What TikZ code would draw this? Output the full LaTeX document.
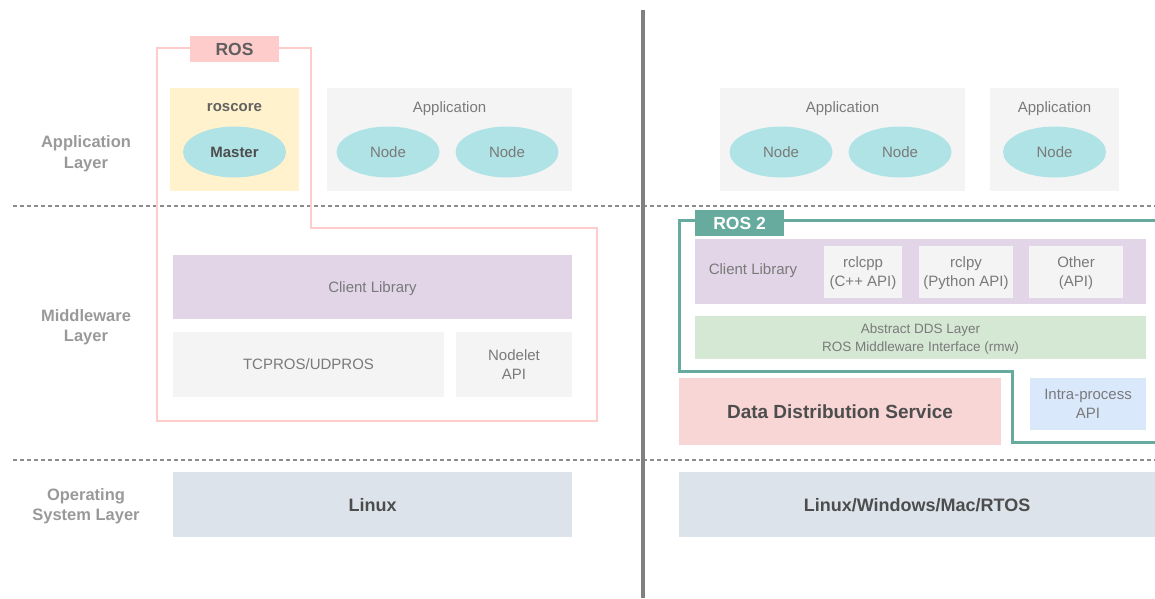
\documentclass[tikz,border=0pt]{standalone}
\usepackage{fontspec}
\setmainfont{Liberation Sans}
\usetikzlibrary{shapes.geometric}
\definecolor{txtgray}{HTML}{7A7A7A}
\definecolor{laygray}{HTML}{999999}
\definecolor{darktxt}{HTML}{4D4D4D}
\definecolor{boxgray}{HTML}{F4F4F4}
\definecolor{nodecyan}{HTML}{B0E3E6}
\definecolor{coreyellow}{HTML}{FFF2CC}
\definecolor{libpurple}{HTML}{E1D5E7}
\definecolor{rmwgreen}{HTML}{D5E8D4}
\definecolor{ddspink}{HTML}{F8D6D6}
\definecolor{intrablue}{HTML}{DAE8FC}
\definecolor{osblue}{HTML}{DCE3EA}
\definecolor{rospink}{HTML}{FFCCCC}
\definecolor{rosteal}{HTML}{67AB9F}
\definecolor{divgray}{HTML}{808080}
\definecolor{dashgray}{HTML}{8C8C8C}
\begin{document}
\begin{tikzpicture}[x=1pt,y=-1pt,
  every node/.style={inner sep=0pt, outer sep=0pt, text depth=0pt},
  box/.style={rectangle, draw=none, align=center, text=txtgray, font=\fontsize{15}{19}\selectfont},
  ellnode/.style={ellipse, fill=nodecyan, minimum width=103pt, minimum height=51pt, text=txtgray, font=\fontsize{15}{19}\selectfont},
  plain/.style={align=center, text=txtgray, font=\fontsize{15}{19}\selectfont},
  layerlbl/.style={align=center, text=laygray, font=\fontsize{16.5}{20.5}\selectfont\bfseries},
  boldtxt/.style={text=darktxt, font=\fontsize{18}{22}\selectfont\bfseries},
  tag/.style={rectangle, minimum width=89pt, minimum height=26pt, font=\fontsize{17.5}{21}\selectfont\bfseries},
  sepline/.style={draw=dashgray, line width=1.3pt, dash pattern=on 4pt off 3pt},
  roscontour/.style={draw=rospink, line width=2.5pt},
  ros2contour/.style={draw=rosteal, line width=3pt}
]
\path[use as bounding box] (0,0) rectangle (1155,598);

% separators
\coordinate (s1l) at (13,206); \coordinate (s1r) at (1155,206);
\coordinate (s2l) at (13,460); \coordinate (s2r) at (1155,460);
\draw[sepline] (s1l) -- (s1r);
\draw[sepline] (s2l) -- (s2r);
\coordinate (dvt) at (643,10); \coordinate (dvb) at (643,598);
\draw[draw=divgray, line width=4pt] (dvt) -- (dvb);

% layer labels
\node[layerlbl] (lapp) at (86,152) {Application\\Layer};
\node[layerlbl] (lmid) at (86,325.5) {Middleware\\Layer};
\node[layerlbl] (los) at (86,504.5) {Operating\\System Layer};

% ---------------- ROS (left) ----------------
\node[box, fill=coreyellow, minimum width=129pt, minimum height=103pt] (roscore) at (234.5,139.5) {};
\node[text=txtgray!80!black, font=\fontsize{15}{19}\selectfont\bfseries] (roscoret) at (234.5,107) {roscore};
\node[ellnode, text=darktxt, font=\fontsize{15}{19}\selectfont\bfseries] (master) at (234.5,152) {Master};

\node[box, fill=boxgray, minimum width=245pt, minimum height=103pt] (app1) at (449.5,139.5) {};
\node[plain] (app1t) at (449.5,107) {Application};
\node[ellnode] (n1) at (388,152) {Node};
\node[ellnode] (n2) at (507,152) {Node};

\node[box, fill=libpurple, minimum width=399pt, minimum height=64pt] (clientL) at (372.5,287) {Client Library};
\node[box, fill=boxgray, minimum width=271pt, minimum height=65pt] (tcpros) at (308.5,364.5) {TCPROS/UDPROS};
\node[box, fill=boxgray, minimum width=116pt, minimum height=65pt] (nodelet) at (514,364.5) {Nodelet\\API};

\node[box, fill=osblue, minimum width=399pt, minimum height=65pt, boldtxt] (linux) at (372.5,504.5) {Linux};

% ROS contour
\coordinate (r1) at (190,48);
\coordinate (r2) at (157,48);
\coordinate (r3) at (157,421);
\coordinate (r4) at (597,421);
\coordinate (r5) at (597,228);
\coordinate (r6) at (311,228);
\coordinate (r7) at (311,48);
\coordinate (r8) at (279,48);
\draw[roscontour] (r1) -- (r2) -- (r3) -- (r4) -- (r5) -- (r6) -- (r7) -- (r8);
\node[tag, fill=rospink, text=darktxt!90] (rostag) at (234.5,49) {ROS};

% ---------------- ROS 2 (right) ----------------
\node[box, fill=boxgray, minimum width=245pt, minimum height=103pt] (app2) at (842.5,139.5) {};
\node[plain] (app2t) at (842.5,107) {Application};
\node[ellnode] (n3) at (781,152) {Node};
\node[ellnode] (n4) at (900,152) {Node};

\node[box, fill=boxgray, minimum width=129pt, minimum height=103pt] (app3) at (1054.5,139.5) {};
\node[plain] (app3t) at (1054.5,107) {Application};
\node[ellnode] (n5) at (1054.5,152) {Node};

\node[box, fill=libpurple, minimum width=451pt, minimum height=65pt] (clientR) at (920.5,271.5) {};
\node[plain] (clientRt) at (753,269.5) {Client Library};
\node[box, fill=boxgray, minimum width=78pt, minimum height=52pt] (rclcpp) at (863,272) {rclcpp\\(C++ API)};
\node[box, fill=boxgray, minimum width=94pt, minimum height=52pt] (rclpy) at (966,272) {rclpy\\(Python API)};
\node[box, fill=boxgray, minimum width=94pt, minimum height=52pt] (other) at (1076,272) {Other\\(API)};

\node[box, fill=rmwgreen, minimum width=451pt, minimum height=43pt, font=\fontsize{13.5}{18.5}\selectfont] (rmw) at (920.5,337.5) {Abstract DDS Layer\\ROS Middleware Interface (rmw)};

\node[box, fill=ddspink, minimum width=322pt, minimum height=67pt, boldtxt, font=\fontsize{19}{23}\selectfont\bfseries] (dds) at (840,411.5) {Data Distribution Service};
\node[box, fill=intrablue, minimum width=116pt, minimum height=52pt] (intra) at (1088,404) {Intra-process\\API};

\node[box, fill=osblue, minimum width=476pt, minimum height=65pt, boldtxt] (linuxR) at (917,504.5) {Linux/Windows/Mac/RTOS};

% ROS 2 contour
\coordinate (t1) at (1157,220);
\coordinate (t2) at (679,220);
\coordinate (t3) at (679,371);
\coordinate (t4) at (1012,371);
\coordinate (t5) at (1012,442);
\coordinate (t6) at (1157,442);
\draw[ros2contour] (t1) -- (t2) -- (t3) -- (t4) -- (t5) -- (t6);
\node[tag, fill=rosteal, text=white] (ros2tag) at (739.5,223) {ROS 2};

\end{tikzpicture}
\end{document}
